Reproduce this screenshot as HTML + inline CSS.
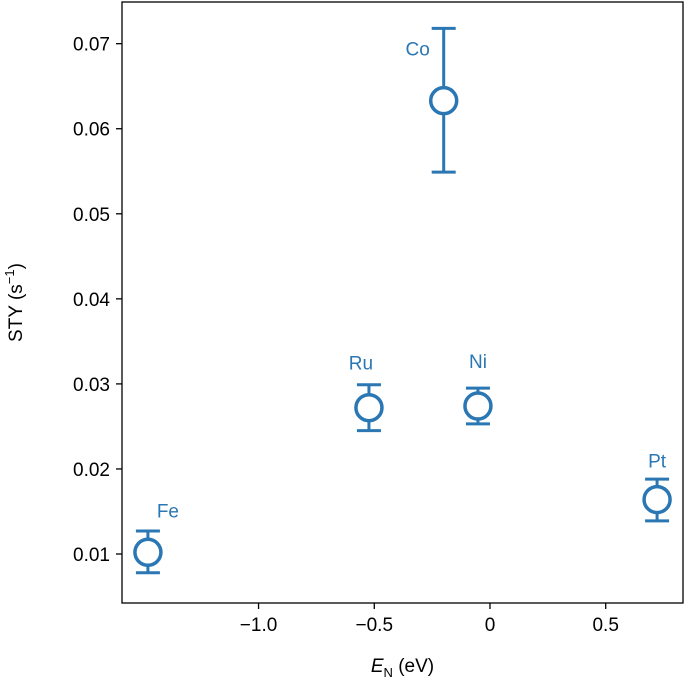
<!DOCTYPE html>
<html><head><meta charset="utf-8"><style>
html,body{margin:0;padding:0;background:#fff;}
svg{display:block;font-family:"Liberation Sans",Arial,sans-serif;}
</style></head><body>
<svg id="chart" width="685" height="687"></svg>
<script>
const metals = ["Fe","Ru","Co","Ni","Pt"];
const enValues = [-1.478, -0.523, -0.2, -0.052, 0.722];
const styValues = [0.0102, 0.0272, 0.0633, 0.0274, 0.0164];
const errLow = [0.0078, 0.0245, 0.0549, 0.0253, 0.0139];
const errHigh = [0.0127, 0.0299, 0.0718, 0.0295, 0.0188];
const xTicks = [-1.0, -0.5, 0, 0.5];
const xTickLabels = ["\u22121.0","\u22120.5","0","0.5"];
const yTicks = [0.01,0.02,0.03,0.04,0.05,0.06,0.07];
const yTickLabels = ["0.01","0.02","0.03","0.04","0.05","0.06","0.07"];

const L=122,R=683,T=2,B=603;
const X0=-1.59,X1=0.834,Y0=0.00424,Y1=0.0749;
const sx=v=>L+(v-X0)/(X1-X0)*(R-L);
const sy=v=>B-(v-Y0)/(Y1-Y0)*(B-T);
const NS="http://www.w3.org/2000/svg";
const svg=document.getElementById('chart');
const C="#2a77b4";
function mk(tag,attrs,parent){const e=document.createElementNS(NS,tag);for(const k in attrs)e.setAttribute(k,attrs[k]);(parent||svg).appendChild(e);return e;}

const frame=mk('rect',{x:L,y:T,width:R-L,height:B-T,fill:'none',stroke:'#000','stroke-width':1.3});



xTicks.forEach((t,i)=>{
  const x=sx(t);
  const tk=mk('line',{x1:x,x2:x,y1:B,y2:B+6,stroke:'#000','stroke-width':1.3});
  
  
  const lb=mk('text',{x:x,y:B+28,'text-anchor':'middle','font-size':19,fill:'#000'});
  lb.textContent=xTickLabels[i];
  
  
});
yTicks.forEach((t,i)=>{
  const y=sy(t);
  const tk=mk('line',{x1:L-6,x2:L,y1:y,y2:y,stroke:'#000','stroke-width':1.3});
  
  
  const lb=mk('text',{x:L-12,y:y+7,'text-anchor':'end','font-size':19,fill:'#000'});
  lb.textContent=yTickLabels[i];
  
  
});

const xt=mk('text',{x:(L+R)/2,y:672,'text-anchor':'middle','font-size':19,fill:'#000'});
xt.innerHTML='<tspan font-style="italic">E</tspan><tspan font-size="13" dy="5">N</tspan><tspan dy="-5"> (eV)</tspan>';


const yt=mk('text',{x:0,y:0,'text-anchor':'middle','font-size':19,fill:'#000',transform:`translate(22,${(T+B)/2}) rotate(-90)`});
yt.innerHTML='STY (s<tspan font-size="13" dy="-8">\u22121</tspan><tspan dy="8">)</tspan>';



const labelOff={Fe:[20,-35],Ru:[-8,-38],Co:[-26,-45],Ni:[0,-38],Pt:[0,-32]};
metals.forEach((m,i)=>{
  const x=sx(enValues[i]),y=sy(styValues[i]),yl=sy(errLow[i]),yh=sy(errHigh[i]);
  const g=mk('g',{});
  
  
  mk('line',{x1:x,x2:x,y1:yh,y2:yl,stroke:C,'stroke-width':3},g);
  mk('line',{x1:x-12,x2:x+12,y1:yh,y2:yh,stroke:C,'stroke-width':3},g);
  mk('line',{x1:x-12,x2:x+12,y1:yl,y2:yl,stroke:C,'stroke-width':3},g);
  mk('circle',{cx:x,cy:y,r:13,fill:'#fff',stroke:C,'stroke-width':3.5},g);
  const o=labelOff[m];
  const t=mk('text',{x:x+o[0],y:y+o[1],'text-anchor':'middle','font-size':19,fill:C},g);
  t.textContent=m;
});
</script>
</body></html>
